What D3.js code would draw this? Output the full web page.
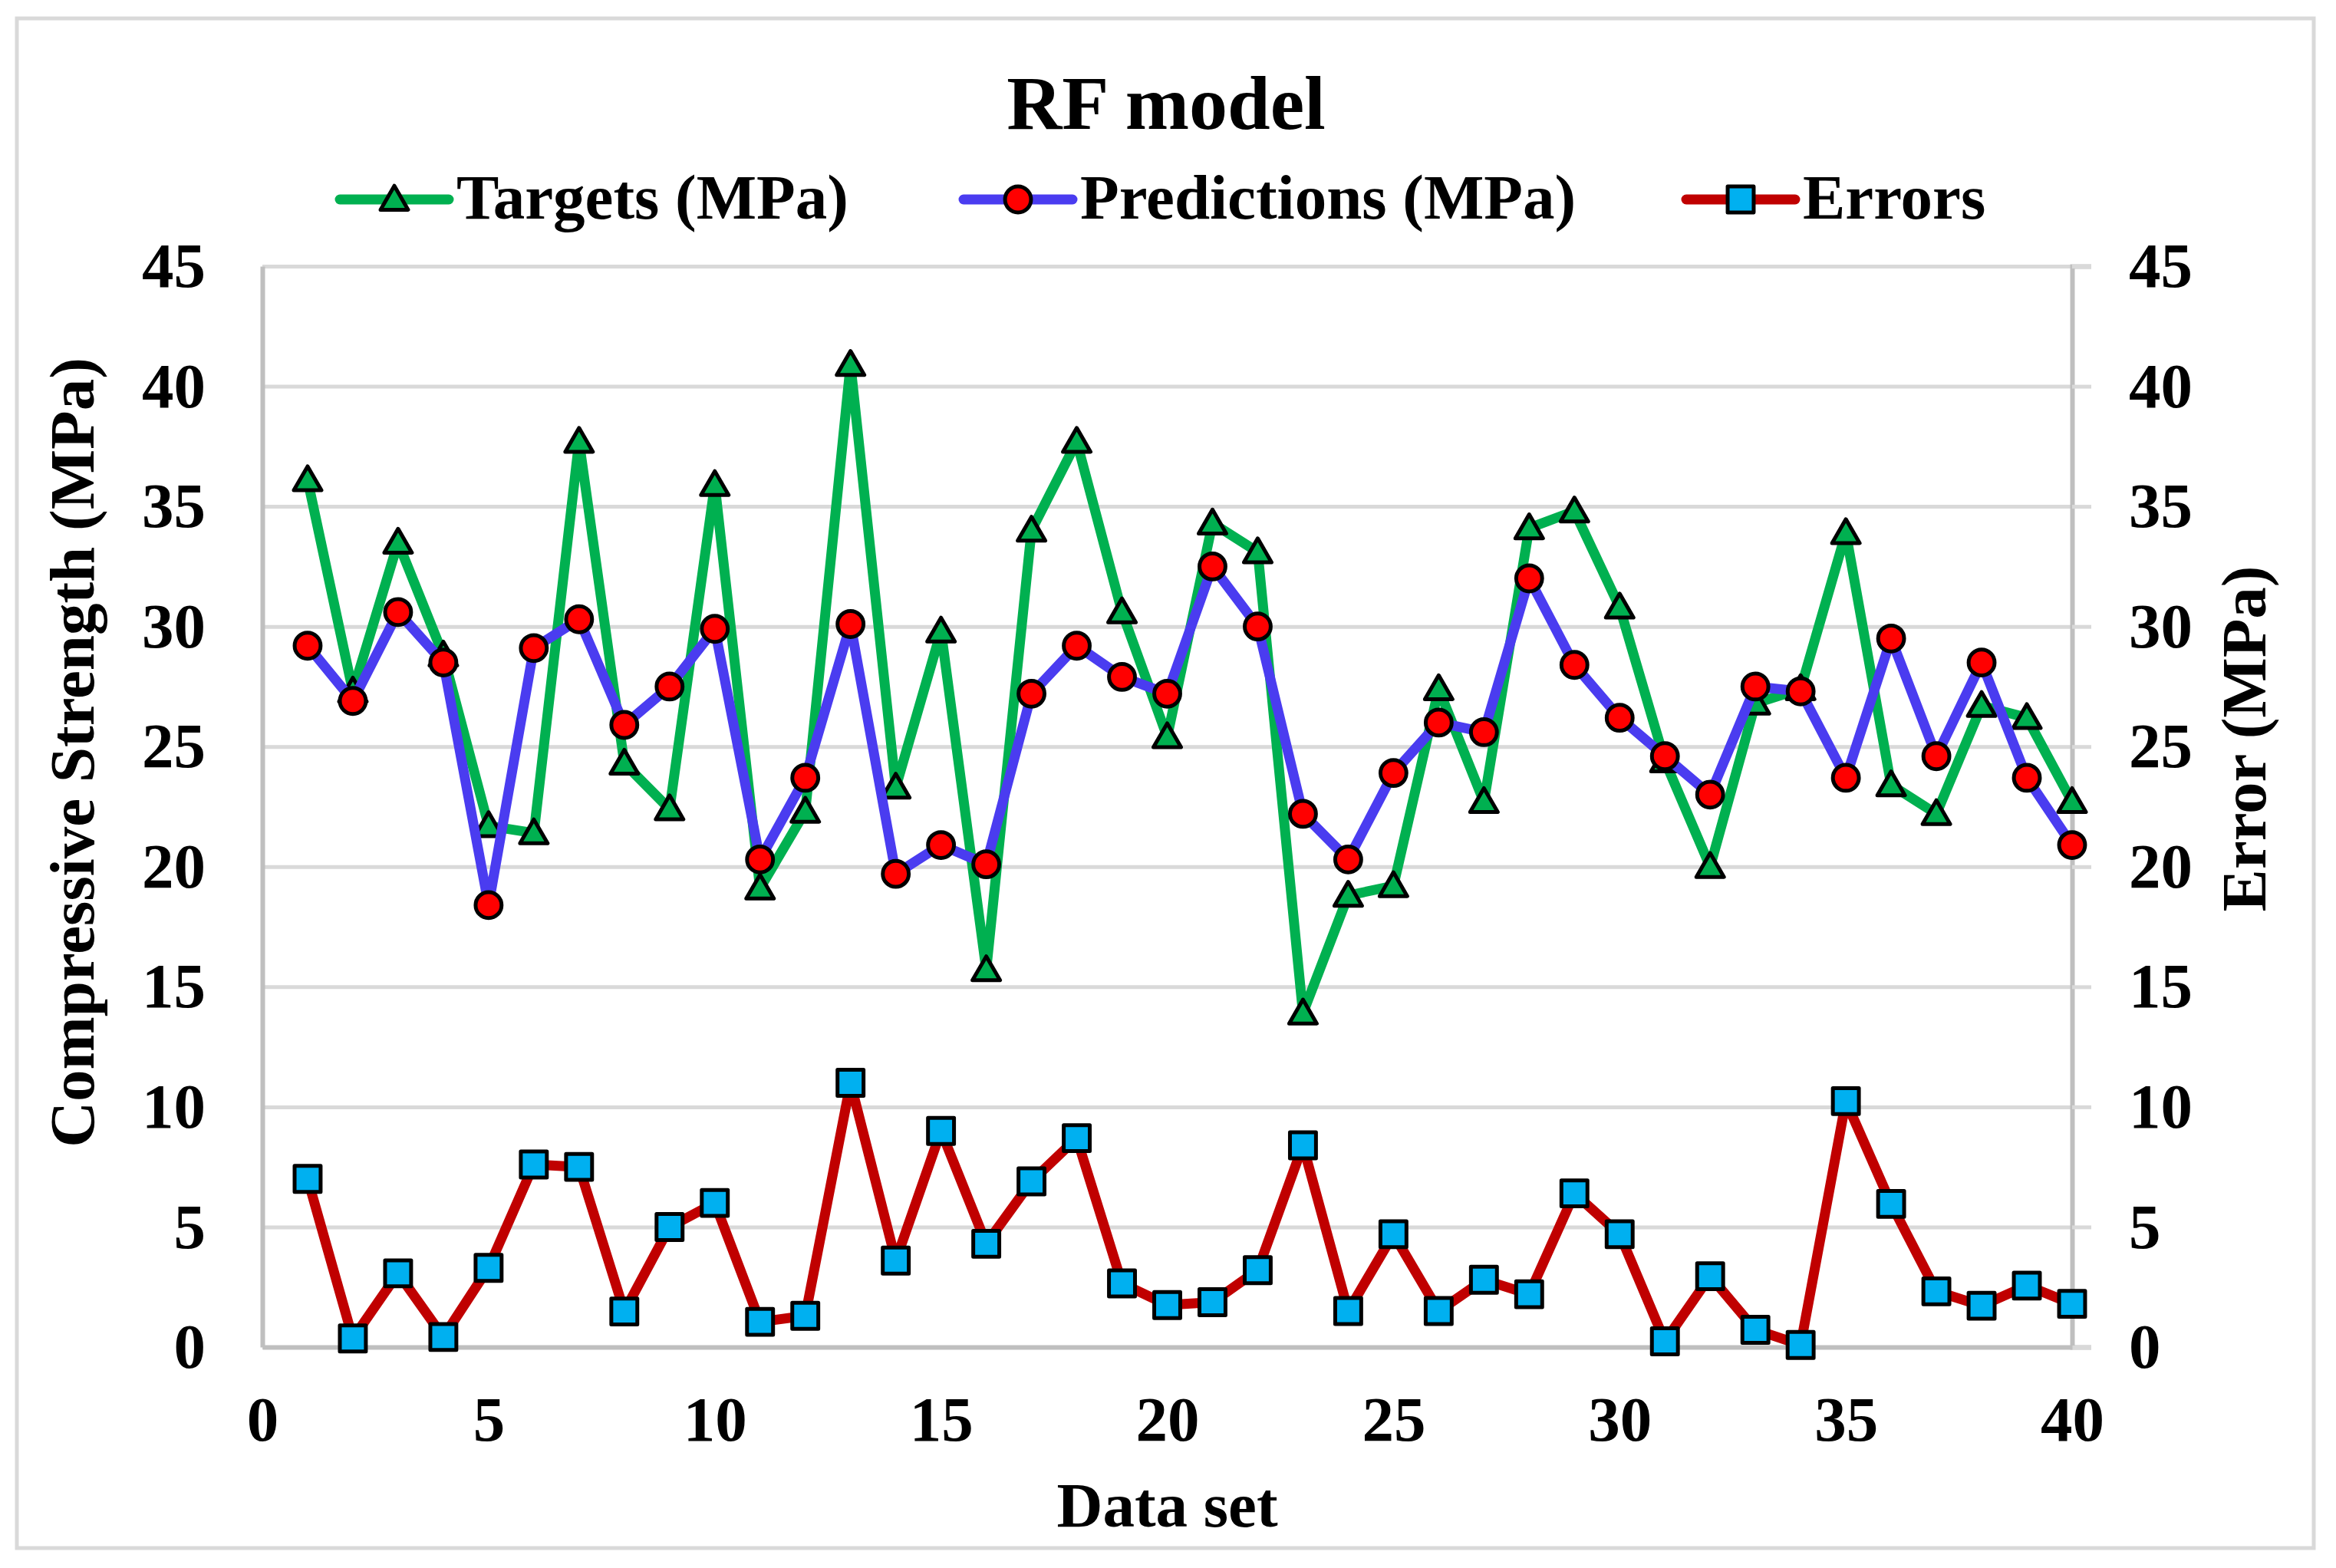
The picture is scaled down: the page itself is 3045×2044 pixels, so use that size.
<!DOCTYPE html>
<html>
<head>
<meta charset="utf-8">
<script src="https://cdn.jsdelivr.net/npm/d3@7"></script>
<style>
  body { margin: 0; background: #fff; }
  text { font-family: "Liberation Serif", "Times New Roman", serif; font-weight: bold; fill: #000; }
</style>
</head>
<body>
<div id="chart"></div>
<script>
// values
const dataSet = d3.range(1, 41);
const targets = [36.1, 27.3, 33.5, 28.8, 21.7, 21.4, 37.7, 24.3, 22.4, 35.9,
                 19.1, 22.3, 40.9, 23.3, 29.8, 15.7, 34.0, 37.7, 30.6, 25.4,
                 34.3, 33.1, 13.9, 18.8, 19.2, 27.4, 22.7, 34.1, 34.8, 30.8,
                 24.4, 20.0, 26.8, 27.4, 33.9, 23.4, 22.2, 26.7, 26.2, 22.7];
const predictions = [29.2, 26.9, 30.6, 28.5, 18.4, 29.1, 30.3, 25.9, 27.5, 29.9,
                     20.3, 23.7, 30.1, 19.7, 20.9, 20.1, 27.2, 29.2, 27.9, 27.2,
                     32.5, 30.0, 22.2, 20.3, 23.9, 26.0, 25.6, 32.0, 28.4, 26.2,
                     24.6, 23.0, 27.5, 27.3, 23.7, 29.5, 24.6, 28.5, 23.7, 20.9];
const errors = [7.0, 0.36, 3.07, 0.42, 3.3, 7.6, 7.5, 1.48, 5.0, 6.0,
                1.05, 1.3, 11.0, 3.6, 9.0, 4.3, 6.9, 8.7, 2.65, 1.75,
                1.87, 3.2, 8.4, 1.5, 4.7, 1.5, 2.8, 2.2, 6.4, 4.7,
                0.24, 2.95, 0.72, 0.09, 10.24, 5.96, 2.32, 1.72, 2.56, 1.8];
const xTicks = [0, 5, 10, 15, 20, 25, 30, 35, 40];
const yTicks = [0, 5, 10, 15, 20, 25, 30, 35, 40, 45];
const seriesNames = ["Targets (MPa)", "Predictions (MPa)", "Errors"];

const width = 3045, height = 2044;
const plotLeft = 342, plotRight = 2701, plotTop = 347, plotBottom = 1756;
const fontSize = 83;

const svg = d3.select("#chart").append("svg")
    .attr("width", width)
    .attr("height", height);

svg.append("rect")
    .attr("x", 22).attr("y", 24)
    .attr("width", 2994).attr("height", 1994)
    .attr("fill", "#fff")
    .attr("stroke", "#d9d9d9")
    .attr("stroke-width", 5);

const x = d3.scaleLinear().domain([0, 40]).range([plotLeft, plotRight]);
const y = d3.scaleLinear().domain([0, 45]).range([plotBottom, plotTop]);
const yR = d3.scaleLinear().domain([0, 45]).range([plotBottom, plotTop]);

// grid
svg.append("g")
    .attr("transform", `translate(${plotLeft},0)`)
    .call(d3.axisLeft(y).tickValues(yTicks).tickSize(-(plotRight - plotLeft)).tickFormat(""))
    .call(g => g.select(".domain").remove())
    .call(g => g.selectAll("line").attr("stroke", "#d9d9d9").attr("stroke-width", 5));

// left axis
svg.append("g")
    .attr("transform", `translate(${plotLeft},0)`)
    .call(d3.axisLeft(y).tickValues(yTicks).tickSize(0).tickPadding(74))
    .call(g => g.select(".domain").attr("stroke", "#bfbfbf").attr("stroke-width", 6))
    .call(g => g.selectAll("text").style("font-size", fontSize + "px"));

// right axis
svg.append("g")
    .attr("transform", `translate(${plotRight},0)`)
    .call(d3.axisRight(yR).tickValues(yTicks).tickSize(25).tickPadding(49))
    .call(g => g.select(".domain").attr("stroke", "#bfbfbf").attr("stroke-width", 6))
    .call(g => g.selectAll(".tick line").attr("stroke", "#d9d9d9").attr("stroke-width", 5))
    .call(g => g.selectAll("text").style("font-size", fontSize + "px"));

// bottom axis
svg.append("g")
    .attr("transform", `translate(0,${plotBottom})`)
    .call(d3.axisBottom(x).tickValues(xTicks).tickSize(0))
    .call(g => g.select(".domain").attr("stroke", "#bfbfbf").attr("stroke-width", 6))
    .call(g => g.selectAll("text").style("font-size", fontSize + "px").attr("y", 122).attr("dy", 0));

// titles
svg.append("text")
    .attr("x", 1520).attr("y", 168)
    .attr("text-anchor", "middle")
    .style("font-size", "100px")
    .text("RF model");

svg.append("text")
    .attr("x", (plotLeft + plotRight) / 2).attr("y", 1990)
    .attr("text-anchor", "middle")
    .style("font-size", fontSize + "px")
    .text("Data set");

svg.append("text")
    .attr("transform", "translate(122,981) rotate(-90)")
    .attr("text-anchor", "middle")
    .style("font-size", fontSize + "px")
    .text("Compressive Strength (MPa)");

svg.append("text")
    .attr("transform", "translate(2953,963) rotate(-90)")
    .attr("text-anchor", "middle")
    .style("font-size", fontSize + "px")
    .text("Error (MPa)");

// series
const series = [
    { name: seriesNames[0], values: targets, scale: y, line: "#00b050", fill: "#00b050", symbol: d3.symbolTriangle, size: 560 },
    { name: seriesNames[1], values: predictions, scale: y, line: "#4a3cf0", fill: "#ff0000", symbol: d3.symbolCircle, size: 900 },
    { name: seriesNames[2], values: errors, scale: yR, line: "#c00000", fill: "#00b0f0", symbol: d3.symbolSquare, size: 1150 }
];

const markerPath = s => d3.symbol().type(s.symbol).size(s.size)();

series.forEach(s => {
    const line = d3.line()
        .x((d, i) => x(dataSet[i]))
        .y(d => s.scale(d));

    const g = svg.append("g");
    g.append("path")
        .datum(s.values)
        .attr("d", line)
        .attr("fill", "none")
        .attr("stroke", s.line)
        .attr("stroke-width", 13)
        .attr("stroke-linejoin", "round")
        .attr("stroke-linecap", "round");

    g.selectAll(".m")
        .data(s.values)
        .join("path")
        .attr("class", "m")
        .attr("transform", (d, i) => {
            const dy = s.symbol === d3.symbolTriangle ? 3 : 0;
            return `translate(${x(dataSet[i])},${s.scale(d) + dy})`;
        })
        .attr("d", markerPath(s))
        .attr("fill", s.fill)
        .attr("stroke", "#000")
        .attr("stroke-width", 5)
        .attr("stroke-linejoin", "round");
});

// legend
const legendX = [443, 1256, 2198];
const legend = svg.append("g");
series.forEach((s, i) => {
    const lg = legend.append("g").attr("transform", `translate(${legendX[i]},260)`);
    lg.append("line")
        .attr("x1", 0).attr("x2", 142)
        .attr("y1", 0).attr("y2", 0)
        .attr("stroke", s.line)
        .attr("stroke-width", 13)
        .attr("stroke-linecap", "round");
    lg.append("path")
        .attr("transform", `translate(71,${s.symbol === d3.symbolTriangle ? 3 : 0})`)
        .attr("d", markerPath(s))
        .attr("fill", s.fill)
        .attr("stroke", "#000")
        .attr("stroke-width", 5)
        .attr("stroke-linejoin", "round");
    lg.append("text")
        .attr("x", 152).attr("y", 25)
        .style("font-size", fontSize + "px")
        .text(s.name);
});
</script>
</body>
</html>
